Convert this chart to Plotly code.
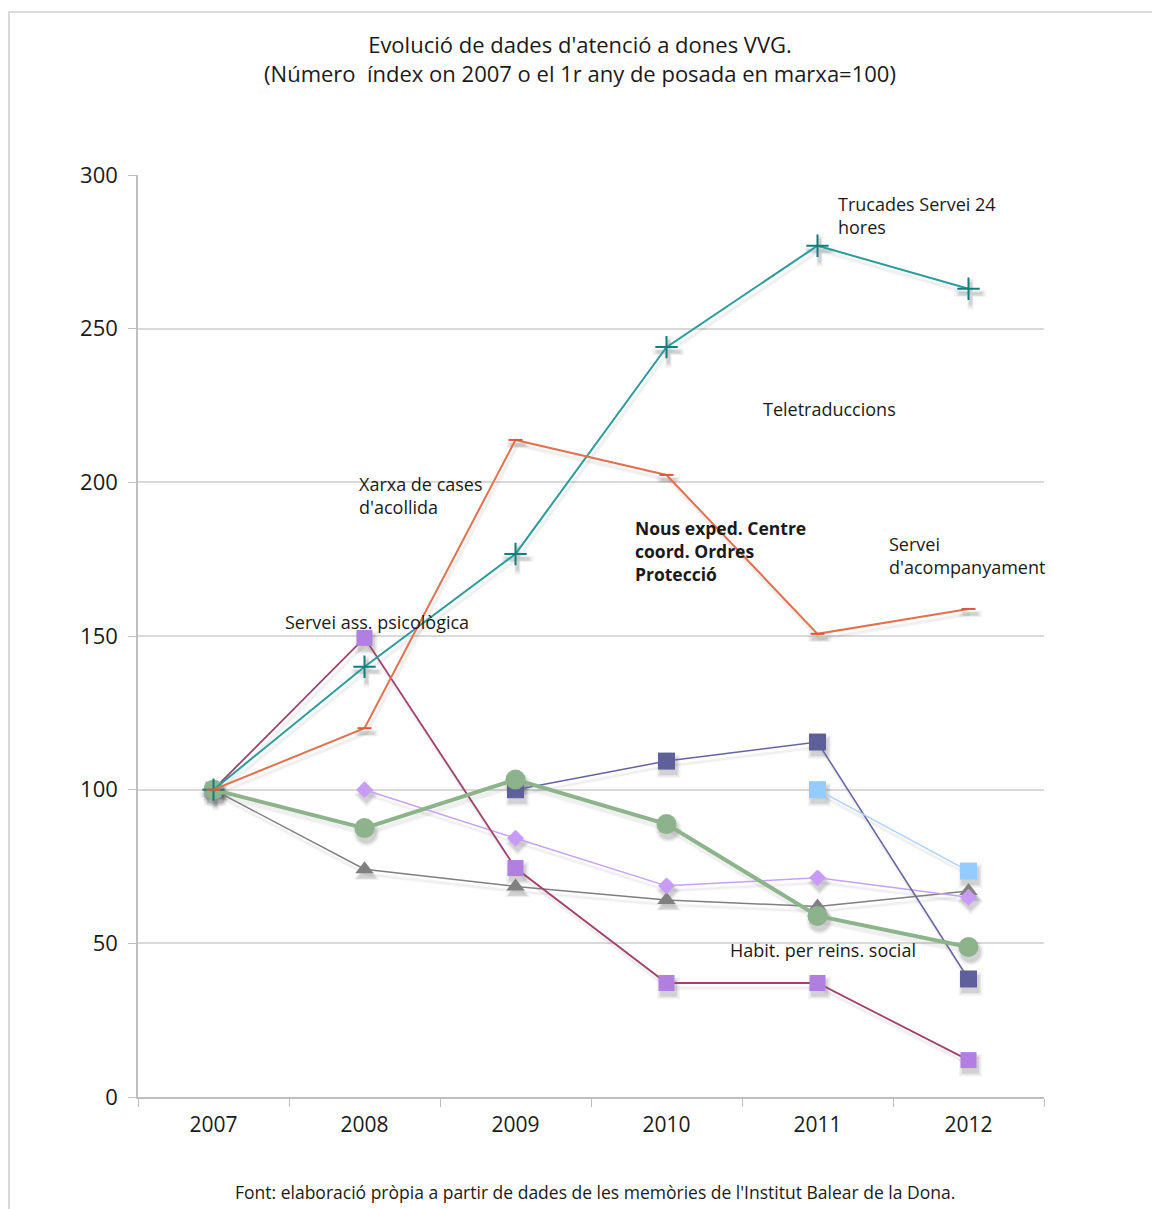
import plotly.graph_objects as go

# Index values (2007 or first year of operation = 100)
years = ["2007", "2008", "2009", "2010", "2011", "2012"]

trucades_24h = [100, 140, 176.7, 244, 277, 263]
xarxa_cases = [100, 120, 213.8, 202.4, 150.7, 158.8]
serv_psicologica = [100, 149.4, 74.5, 37.1, 37.1, 12]
nous_exped = [None, None, 100, 109.3, 115.5, 38.4]
serv_acompanyament = [None, None, None, None, 100, 73.5]
habit_reinsercio = [100, 87.5, 103.3, 88.8, 58.9, 48.8]
teletraduccions = [None, 100, 84.2, 68.7, 71.3, 65.0]
perceptores_rai = [100, 74.1, 68.5, 64.1, 62.0, 67.0]

y_ticks = [0, 50, 100, 150, 200, 250, 300]

FONT = "Open Sans"
TXT = "#1a1a1a"

# plot area in pixels
L, R, T, B = 138, 1044, 175, 1097
PW, PH = R - L, B - T
X_RANGE = [-0.5, 5.5]
Y_RANGE = [0, 300]

# drop-shadow offset (pixels right / down), drawn on a shifted copy of the axes
SDX, SDY = 2, 5
sx = SDX * (X_RANGE[1] - X_RANGE[0]) / PW
sy = SDY * (Y_RANGE[1] - Y_RANGE[0]) / PH

series = [
    # values, line colour, line width, symbol, size, marker colour, name
    (perceptores_rai, "#7f7f7f", 1.5, "triangle-up", 16, "#808080", "Perceptores RAI"),
    (teletraduccions, "#c7a0fb", 1.5, "diamond", 13, "#c89cf6", "Teletraduccions"),
    (nous_exped, "#6464a0", 1.5, "square", 17, "#5f5f9b", "Nous exped. Centre coord. Ordres Protecció"),
    (serv_acompanyament, "#a9d3ff", 1.5, "square", 17, "#94ccff", "Servei d'acompanyament"),
    (serv_psicologica, "#a0426b", 1.8, "square", 16, "#b07fdf", "Servei ass. psicològica"),
    (habit_reinsercio, "#8cb48a", 4, "circle", 20, "#8cb38b", "Habit. per reins. social"),
    (trucades_24h, "#2a9d9b", 2, "cross-thin", 16, "#137f7d", "Trucades Servei 24 hores"),
    (xarxa_cases, "#e4704e", 2, "line-ew", 10, "#e0583a", "Xarxa de cases d'acollida"),
]

fig = go.Figure()

# soft shadows underneath: a few stacked translucent layers of growing size
for grow, alpha in [(7, 0.04), (4, 0.06), (1, 0.09)]:
    for values, lc, lw, sym, size, mc, name in series:
        outline = 3 + grow / 2 if sym in ("cross-thin", "line-ew") else 0
        fig.add_trace(go.Scatter(
            x=years, y=values, mode="lines+markers", xaxis="x", yaxis="y",
            line=dict(color=f"rgba(0,0,0,{alpha / 3:.3f})", width=lw + grow / 2),
            marker=dict(symbol=sym, size=size + grow, color=f"rgba(0,0,0,{alpha})",
                        line=dict(color=f"rgba(0,0,0,{alpha})", width=outline)),
            hoverinfo="skip", showlegend=False,
        ))

# the series themselves
for values, lc, lw, sym, size, mc, name in series:
    outline = 2 if sym in ("cross-thin", "line-ew") else 0
    fig.add_trace(go.Scatter(
        x=years, y=values, mode="lines+markers", name=name, xaxis="x2", yaxis="y2",
        line=dict(color=lc, width=lw),
        marker=dict(symbol=sym, size=size, color=mc, line=dict(color=mc, width=outline)),
        connectgaps=False,
    ))

# Series labels placed inside the plot
labels = [
    ("Perceptores RAI", 2.11, 303.3, "center", False),
    ("Trucades Servei 24<br>hores", 4.12, 286.9, "left", False),
    ("Teletraduccions", 4.08, 223.9, "center", False),
    ("Xarxa de cases<br>d'acollida", 0.95, 195.7, "left", False),
    ("Nous exped. Centre<br>coord. Ordres<br>Protecció", 2.775, 177.7, "left", True),
    ("Servei<br>d'acompanyament", 4.457, 176.2, "left", False),
    ("Servei ass. psicològica", 1.08, 154.6, "center", False),
    ("Habit. per reins. social", 4.036, 47.8, "center", False),
]
for text, xi, yv, anchor, bold in labels:
    fig.add_annotation(
        x=xi, y=yv, xref="x2", yref="y2", text=f"<b>{text}</b>" if bold else text,
        showarrow=False, xanchor=anchor, yanchor="middle", align=anchor,
        font=dict(family=FONT, size=17.5 if bold else 18, color=TXT),
    )

# Source note below the axis
fig.add_annotation(
    x=(595 - L) / PW, y=-(1192 - B) / PH, xref="paper", yref="paper",
    xanchor="center", yanchor="middle",
    text="Font: elaboració pròpia a partir de dades de les memòries de l'Institut Balear de la Dona.",
    showarrow=False, font=dict(family=FONT, size=17.5, color=TXT),
)

fig.update_layout(
    width=1152, height=1209,
    margin=dict(l=L, r=1152 - R, t=T, b=1209 - B),
    paper_bgcolor="white", plot_bgcolor="white",
    showlegend=False,
    title=dict(
        text="Evolució de dades d'atenció a dones VVG.<br>(Número  índex on 2007 o el 1r any de posada en marxa=100)",
        x=580 / 1152, xanchor="center", y=1 - 53 / 1209, yanchor="middle",
        font=dict(family=FONT, size=22, color=TXT),
    ),
    # shifted axes carrying the shadows
    xaxis=dict(type="category", range=[X_RANGE[0] - sx, X_RANGE[1] - sx], visible=False,
               categoryarray=years),
    yaxis=dict(range=[Y_RANGE[0] + sy, Y_RANGE[1] + sy], visible=False),
    # visible axes
    xaxis2=dict(
        type="category", categoryarray=years, overlaying="x", anchor="y2",
        tickson="boundaries", ticks="outside", ticklen=8,
        tickcolor="#bfbfbf", showline=True, linecolor="#bfbfbf", linewidth=1.5,
        showgrid=False, tickfont=dict(family=FONT, size=21, color=TXT),
        ticklabelstandoff=8, range=X_RANGE,
    ),
    yaxis2=dict(
        range=Y_RANGE, tickvals=y_ticks, ticks="outside", ticklen=8, overlaying="y",
        anchor="x2", side="left",
        tickcolor="#bfbfbf", showline=True, linecolor="#bfbfbf", linewidth=1.5,
        showgrid=True, gridcolor="#d9d9d9", gridwidth=1.5, zeroline=False,
        tickfont=dict(family=FONT, size=22, color=TXT), ticklabelstandoff=6,
    ),
)

# Outer chart border
fig.add_shape(type="rect", xref="paper", yref="paper",
              x0=-(L - 9) / PW, x1=(1160 - L) / PW,
              y0=-(1220 - B) / PH, y1=(B - 12) / PH,
              line=dict(color="#d9d9d9", width=2), layer="below")

fig.write_html("out.html")
